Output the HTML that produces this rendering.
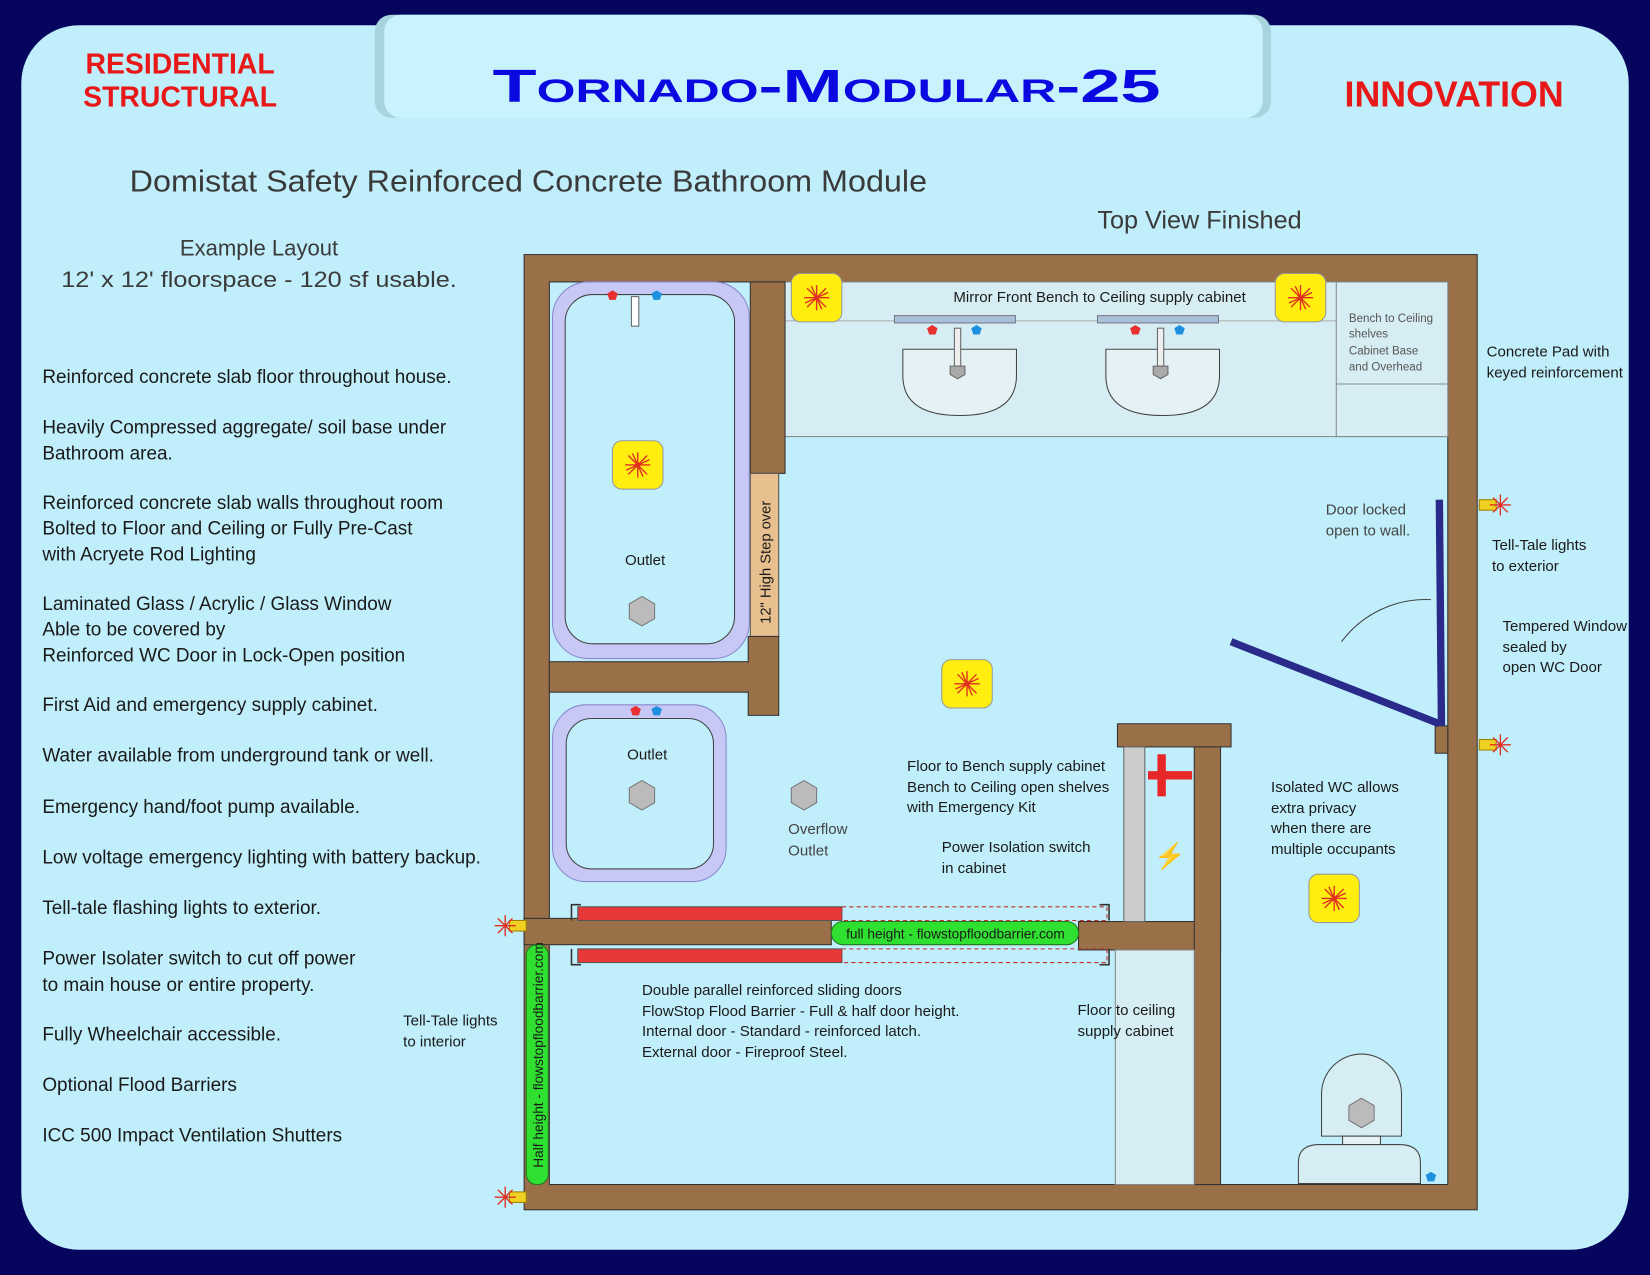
<!DOCTYPE html>
<html><head><meta charset="utf-8"><style>
html,body{margin:0;padding:0;background:#05055e;}
svg{display:block}
text{font-family:"Liberation Sans",sans-serif;fill:#1a1a1a}
.s{font-size:14.3px}
.l{font-size:18px}
</style></head><body>
<svg width="1650" height="1275" viewBox="0 0 1568 1212" xmlns="http://www.w3.org/2000/svg">
<defs>
<g id="lt"><rect x="-24" y="-23" width="48" height="46" rx="9" fill="#ffee10" stroke="#999"/>
<g stroke="#e03020" stroke-width="1.3"><line x1="-12" y1="0" x2="12" y2="0"/><line x1="0" y1="-12" x2="0" y2="12"/><line x1="-9" y1="-9" x2="9" y2="9"/><line x1="-9" y1="9" x2="9" y2="-9"/><line x1="-5" y1="-11" x2="5" y2="11"/><line x1="-11" y1="5" x2="11" y2="-5"/></g><circle r="2.5" fill="#e03020"/></g>
<g id="tt"><rect x="-16" y="-5" width="16" height="10" fill="#f0d020" stroke="#a08000"/><g stroke="#e03020" stroke-width="1.3"><line x1="-6" y1="0" x2="14" y2="0"/><line x1="4" y1="-10" x2="4" y2="10"/><line x1="-3" y1="-7" x2="11" y2="7"/><line x1="-3" y1="7" x2="11" y2="-7"/></g></g>
<polygon id="hx" points="0,-14 12,-7 12,7 0,14 -12,7 -12,-7" fill="#bbb" stroke="#777"/>
</defs>
<rect width="1568" height="1212" fill="#05055e"/>
<rect x="20" y="24" width="1528" height="1164" rx="55" fill="#c0eefa"/>
<rect x="356" y="14" width="852" height="98" rx="16" fill="#a8d4de"/>
<rect x="365" y="14" width="835" height="98" rx="16" fill="#c8f2fc"/>
<text x="171" y="70" text-anchor="middle" style="font-size:27px;font-weight:bold;fill:#e81818">RESIDENTIAL</text>
<text x="171" y="101" text-anchor="middle" style="font-size:27px;font-weight:bold;fill:#e81818">STRUCTURAL</text>
<text x="468" y="97" textLength="635" lengthAdjust="spacingAndGlyphs" style="font-size:44px;font-weight:bold;fill:#0a0ae0;font-variant:small-caps">Tornado-Modular-25</text>
<text x="1382" y="101" text-anchor="middle" style="font-size:34px;font-weight:bold;fill:#e81818">INNOVATION</text>
<text x="123" y="182" textLength="758" lengthAdjust="spacingAndGlyphs" style="font-size:29px;fill:#3a3a3a">Domistat Safety Reinforced Concrete Bathroom Module</text>
<text x="1140" y="217" text-anchor="middle" style="font-size:24px;fill:#3a3a3a">Top View Finished</text>
<text x="246" y="243" text-anchor="middle" style="font-size:21px;fill:#3a3a3a">Example Layout</text>
<text x="58" y="273" textLength="376" lengthAdjust="spacingAndGlyphs" style="font-size:21px;fill:#3a3a3a">12' x 12' floorspace - 120 sf usable.</text>
<g>
<text x="40" y="364" class="l">Reinforced concrete slab floor throughout house.</text>
<text x="40" y="412" class="l">Heavily Compressed aggregate/ soil base under</text>
<text x="40" y="437" class="l">Bathroom area.</text>
<text x="40" y="484" class="l">Reinforced concrete slab walls throughout room</text>
<text x="40" y="508" class="l">Bolted to Floor and Ceiling or Fully Pre-Cast</text>
<text x="40" y="533" class="l">with Acryete Rod Lighting</text>
<text x="40" y="580" class="l">Laminated Glass / Acrylic / Glass Window</text>
<text x="40" y="604" class="l">Able to be covered by</text>
<text x="40" y="629" class="l">Reinforced WC Door in Lock-Open position</text>
<text x="40" y="676" class="l">First Aid and emergency supply cabinet.</text>
<text x="40" y="724" class="l">Water available from underground tank or well.</text>
<text x="40" y="773" class="l">Emergency hand/foot pump available.</text>
<text x="40" y="821" class="l">Low voltage emergency lighting with battery backup.</text>
<text x="40" y="869" class="l">Tell-tale flashing lights to exterior.</text>
<text x="40" y="917" class="l">Power Isolater switch to cut off power</text>
<text x="40" y="942" class="l">to main house or entire property.</text>
<text x="40" y="989" class="l">Fully Wheelchair accessible.</text>
<text x="40" y="1037" class="l">Optional Flood Barriers</text>
<text x="40" y="1085" class="l">ICC 500 Impact Ventilation Shutters</text>
</g>
<!-- plan -->
<rect x="498" y="242" width="906" height="908" fill="#9a7048" stroke="#333"/>
<rect x="522" y="268" width="854" height="858" fill="#c0eefa" stroke="#333"/>
<!-- vanity -->
<rect x="746" y="268" width="630" height="147" fill="#d6eef3" stroke="#888"/>
<line x1="746" y1="305" x2="1270" y2="305" stroke="#aaa"/>
<rect x="1270" y="268" width="106" height="147" fill="#d6eef3" stroke="#888"/>
<line x1="1270" y1="365" x2="1376" y2="365" stroke="#888"/>
<text x="1282" y="306" style="font-size:11px;fill:#555">Bench to Ceiling</text>
<text x="1282" y="321" style="font-size:11px;fill:#555">shelves</text>
<text x="1282" y="337" style="font-size:11px;fill:#555">Cabinet Base</text>
<text x="1282" y="352" style="font-size:11px;fill:#555">and Overhead</text>
<text x="1045" y="287" text-anchor="middle" class="s">Mirror Front Bench to Ceiling supply cabinet</text>
<g id="sink"><rect x="850" y="300" width="115" height="7" fill="#a8c0d8" stroke="#778"/>
<path d="M858 332 h108 v25 q0 38 -54 38 q-54 0 -54 -38 z" fill="#e4f2f6" stroke="#444"/>
<rect x="907" y="312" width="6" height="36" fill="#eee" stroke="#666"/>
<polygon points="903,348 917,348 917,356 910,360 903,356" fill="#aaa" stroke="#666"/>
<polygon points="886,309 891,312 889,318 883,318 881,312" fill="#e83030"/>
<polygon points="928,309 933,312 931,318 925,318 923,312" fill="#1e90e0"/></g>
<use href="#sink" x="193"/>
<use href="#lt" x="776" y="283"/><use href="#lt" x="1236" y="283"/>
<!-- tub -->
<rect x="525" y="268" width="187" height="358" rx="34" fill="#c8c8f6" stroke="#8888cc"/>
<rect x="537" y="280" width="161" height="332" rx="26" fill="#c0eefa" stroke="#444"/>
<rect x="600" y="282" width="7" height="28" fill="#fff" stroke="#666"/>
<polygon points="582,276 587,279 585,285 579,285 577,279" fill="#e83030"/>
<polygon points="624,276 629,279 627,285 621,285 619,279" fill="#1e90e0"/>
<use href="#lt" x="606" y="442"/>
<text x="613" y="537" text-anchor="middle" class="s">Outlet</text>
<use href="#hx" x="610" y="581"/>
<!-- walls -->
<rect x="713" y="268" width="33" height="182" fill="#9a7048" stroke="#333"/>
<rect x="713" y="450" width="27" height="155" fill="#e8c090" stroke="#555"/>
<text transform="translate(732,593) rotate(-90)" style="font-size:14px">12" High Step over</text>
<rect x="522" y="629" width="190" height="29" fill="#9a7048" stroke="#333"/>
<rect x="711" y="605" width="29" height="75" fill="#9a7048" stroke="#333"/>
<rect x="705" y="630" width="10" height="27" fill="#9a7048"/>
<!-- shower -->
<rect x="525" y="670" width="165" height="168" rx="32" fill="#c8c8f6" stroke="#8888cc"/>
<rect x="538" y="683" width="140" height="143" rx="24" fill="#c0eefa" stroke="#444"/>
<polygon points="604,671 609,674 607,680 601,680 599,674" fill="#e83030"/>
<polygon points="624,671 629,674 627,680 621,680 619,674" fill="#1e90e0"/>
<text x="615" y="722" text-anchor="middle" class="s">Outlet</text>
<use href="#hx" x="610" y="756"/>
<use href="#hx" x="764" y="756"/>
<text x="749" y="793" class="s" style="fill:#444">Overflow</text>
<text x="749" y="813" class="s" style="fill:#444">Outlet</text>
<!-- horizontal walls -->
<rect x="498" y="873" width="292" height="25" fill="#9a7048" stroke="#333"/>
<rect x="1025" y="876" width="135" height="27" fill="#9a7048" stroke="#333"/>
<!-- sliding doors -->
<rect x="549" y="862" width="251" height="13" fill="#e83838" stroke="#555"/>
<rect x="549" y="902" width="251" height="13" fill="#e83838" stroke="#555"/>
<g stroke="#c03030" stroke-dasharray="4,3" fill="none"><rect x="800" y="862" width="252" height="13"/><rect x="800" y="902" width="252" height="13"/></g>
<path d="M552 860 h-9 v15 M552 917 h-9 v-15 M1045 860 h9 v15 M1045 917 h9 v-15" stroke="#333" fill="none" stroke-width="1.5"/>
<rect x="790" y="876" width="235" height="22" rx="11" fill="#30e030" stroke="#227722"/>
<text x="908" y="892" text-anchor="middle" style="font-size:13px">full height - flowstopfloodbarrier.com</text>
<rect x="500" y="898" width="21" height="228" rx="10" fill="#30e030" stroke="#227722"/>
<text transform="translate(516,1110) rotate(-90)" style="font-size:13px">Half height - flowstopfloodbarrier.com</text>
<!-- cabinet -->
<rect x="1062" y="688" width="108" height="22" fill="#9a7048" stroke="#333"/>
<rect x="1135" y="710" width="25" height="416" fill="#9a7048" stroke="#333"/>
<rect x="1068" y="710" width="20" height="166" fill="#cccccc" stroke="#666"/>
<rect x="1100" y="717" width="8" height="40" fill="#e82828"/><rect x="1091" y="733" width="42" height="8" fill="#e82828"/>
<text x="1112" y="822" text-anchor="middle" style="font-size:24px;fill:#f0d020">⚡</text>
<rect x="1060" y="903" width="75" height="223" fill="#d6eef3" stroke="#888"/>
<!-- door -->
<rect x="1364" y="690" width="12" height="26" fill="#9a7048" stroke="#333"/>
<line x1="1368" y1="475" x2="1370" y2="690" stroke="#2a2a8a" stroke-width="7"/>
<line x1="1170" y1="610" x2="1368" y2="688" stroke="#2a2a8a" stroke-width="7"/>
<path d="M1275 610 A100 100 0 0 1 1360 570" fill="none" stroke="#444"/>
<!-- toilet -->
<path d="M1256 1080 v-40 a38 38 0 0 1 76 0 v40 z" fill="#d6eef3" stroke="#444"/>
<use href="#hx" x="1294" y="1058"/>
<rect x="1276" y="1080" width="36" height="8" fill="#e4f2f6" stroke="#444"/>
<path d="M1234 1125 v-20 q0 -17 20 -17 h76 q20 0 20 17 v20 z" fill="#d6eef3" stroke="#444"/>
<polygon points="1360,1114 1365,1117 1363,1123 1357,1123 1355,1117" fill="#1e90e0"/>
<use href="#lt" x="919" y="650"/><use href="#lt" x="1268" y="854"/>
<!-- tell-tales -->
<use href="#tt" x="1422" y="480"/><use href="#tt" x="1422" y="708"/>
<g transform="translate(484,880) scale(-1,1)"><use href="#tt"/></g>
<g transform="translate(484,1138) scale(-1,1)"><use href="#tt"/></g>
<!-- labels -->
<text x="1260" y="489" class="s" style="fill:#444">Door locked</text>
<text x="1260" y="509" class="s" style="fill:#444">open to wall.</text>
<text x="1413" y="339" class="s">Concrete Pad with</text>
<text x="1413" y="359" class="s">keyed reinforcement</text>
<text x="1418" y="523" class="s">Tell-Tale lights</text>
<text x="1418" y="543" class="s">to exterior</text>
<text x="1428" y="600" class="s">Tempered Window</text>
<text x="1428" y="620" class="s">sealed by</text>
<text x="1428" y="639" class="s">open WC Door</text>
<text x="862" y="733" class="s">Floor to Bench supply cabinet</text>
<text x="862" y="753" class="s">Bench to Ceiling open shelves</text>
<text x="862" y="772" class="s">with Emergency Kit</text>
<text x="895" y="810" class="s">Power Isolation switch</text>
<text x="895" y="830" class="s">in cabinet</text>
<text x="1208" y="753" class="s">Isolated WC allows</text>
<text x="1208" y="773" class="s">extra privacy</text>
<text x="1208" y="792" class="s">when there are</text>
<text x="1208" y="812" class="s">multiple occupants</text>
<text x="610" y="946" class="s">Double parallel reinforced sliding doors</text>
<text x="610" y="966" class="s">FlowStop Flood Barrier - Full &amp; half door height.</text>
<text x="610" y="985" class="s">Internal door - Standard - reinforced latch.</text>
<text x="610" y="1005" class="s">External door - Fireproof Steel.</text>
<text x="1024" y="965" class="s">Floor to ceiling</text>
<text x="1024" y="985" class="s">supply cabinet</text>
<text x="383" y="975" class="s">Tell-Tale lights</text>
<text x="383" y="995" class="s">to interior</text>
</svg>
</body></html>
